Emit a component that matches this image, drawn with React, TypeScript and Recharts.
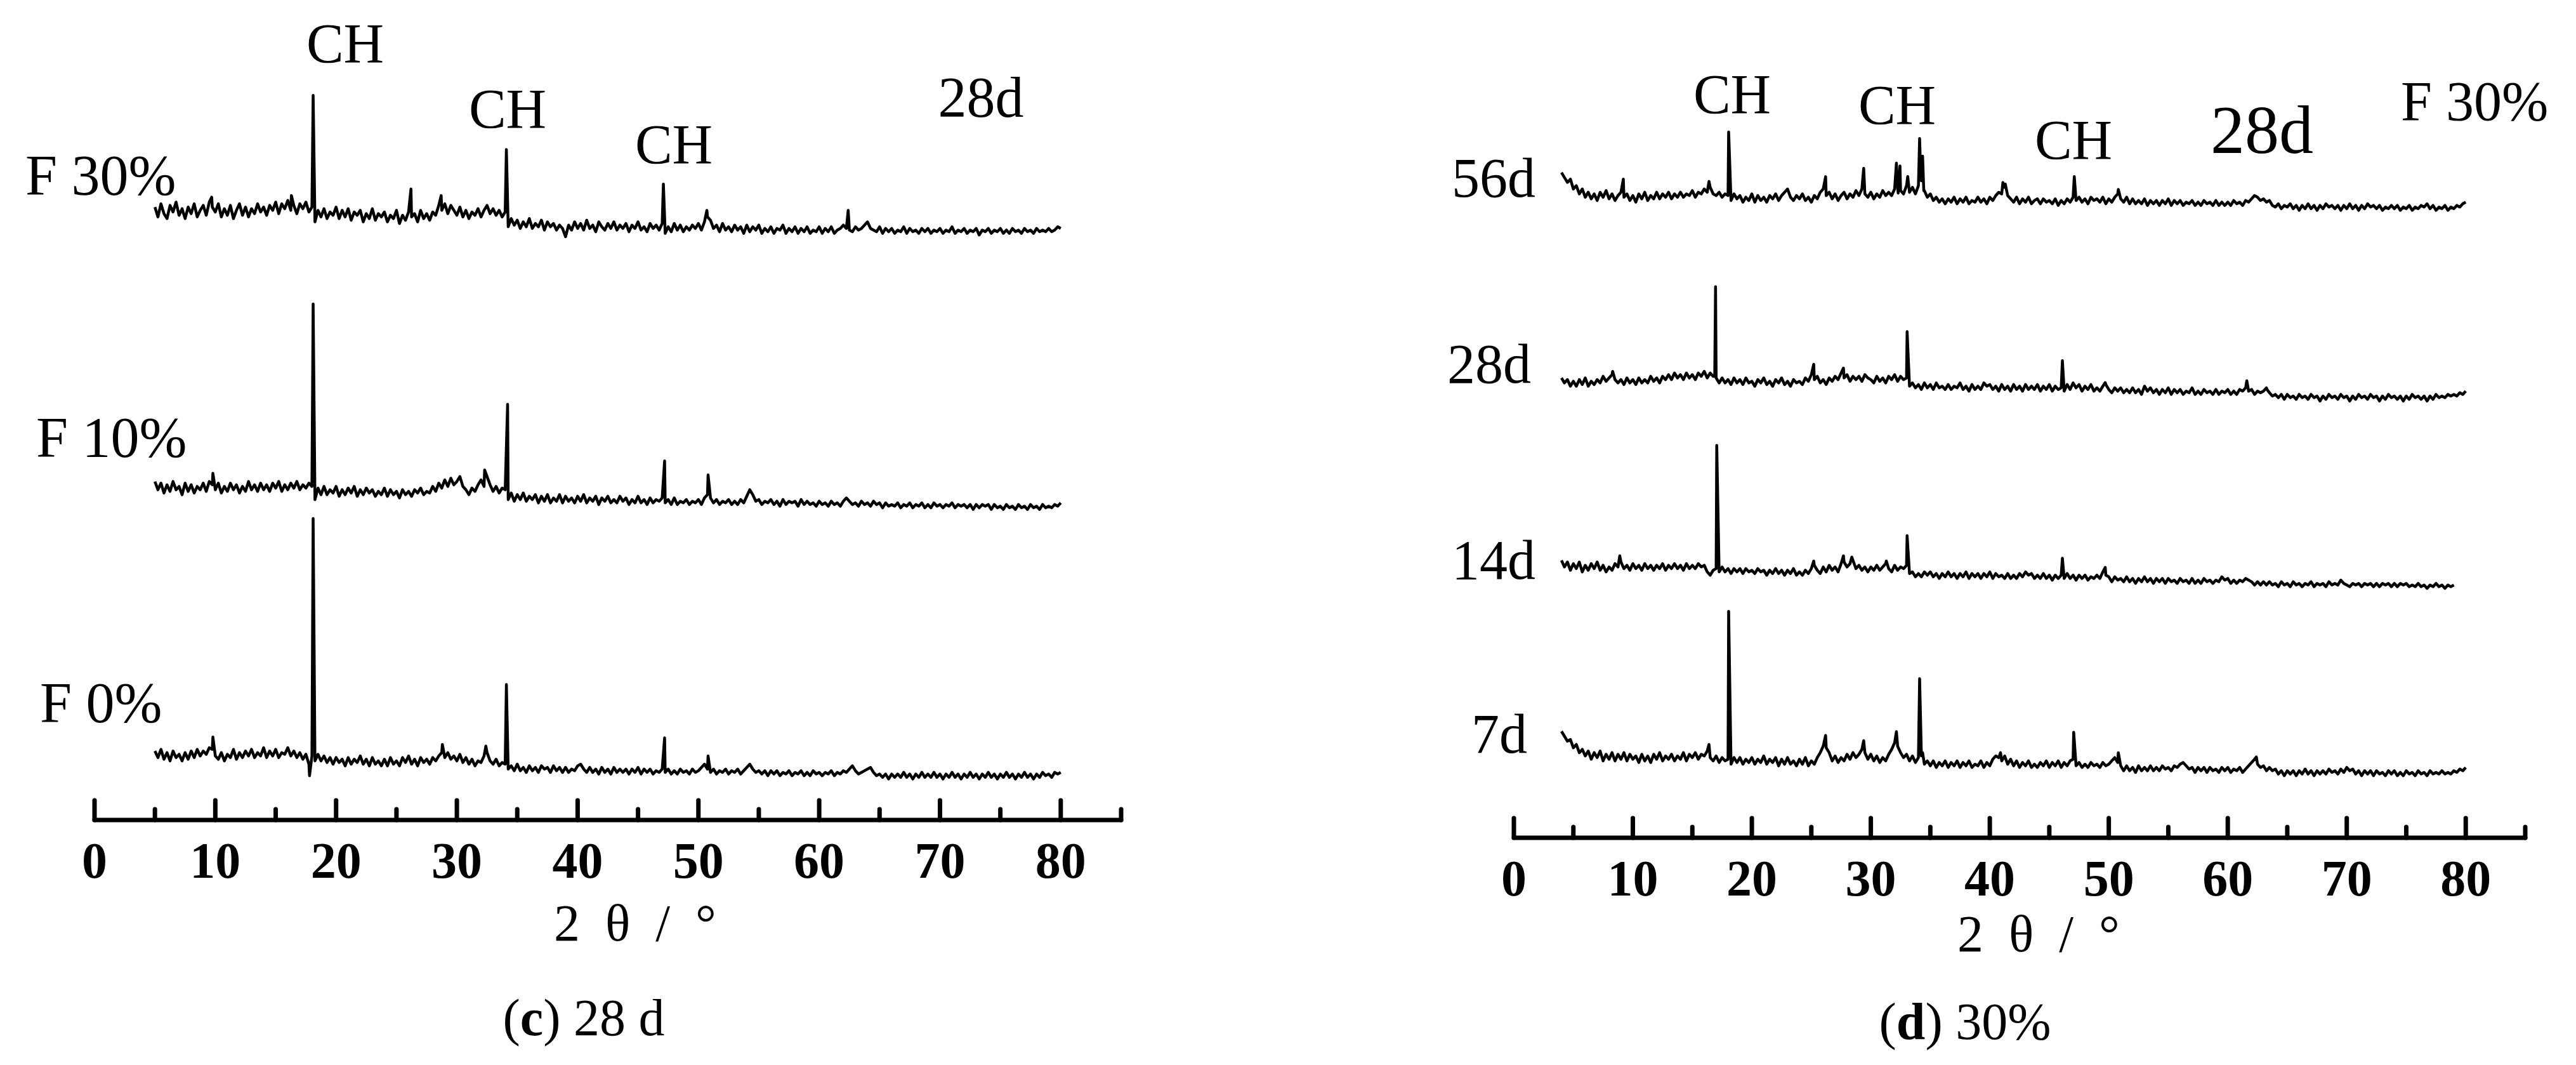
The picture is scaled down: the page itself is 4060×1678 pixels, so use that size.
import React from 'react';
import { LineChart, Line, XAxis, YAxis } from 'recharts';

// ---------------- data (intensity in arbitrary units) ----------------
const twoTheta = [
  4, 4.25, 4.5, 4.75, 5, 5.25, 5.5, 5.75, 6, 6.25, 6.5, 6.75, 7, 7.25, 7.5, 7.75, 8, 8.25, 8.5, 8.75,
  9, 9.25, 9.5, 9.75, 10, 10.25, 10.5, 10.75, 11, 11.25, 11.5, 11.75, 12, 12.25, 12.5, 12.75, 13, 13.25, 13.5, 13.75,
  14, 14.25, 14.5, 14.75, 15, 15.25, 15.5, 15.75, 16, 16.25, 16.5, 16.75, 17, 17.25, 17.5, 17.75, 18, 18.25, 18.5, 18.75,
  19, 19.25, 19.5, 19.75, 20, 20.25, 20.5, 20.75, 21, 21.25, 21.5, 21.75, 22, 22.25, 22.5, 22.75, 23, 23.25, 23.5, 23.75,
  24, 24.25, 24.5, 24.75, 25, 25.25, 25.5, 25.75, 26, 26.25, 26.5, 26.75, 27, 27.25, 27.5, 27.75, 28, 28.25, 28.5, 28.75,
  29, 29.25, 29.5, 29.75, 30, 30.25, 30.5, 30.75, 31, 31.25, 31.5, 31.75, 32, 32.25, 32.5, 32.75, 33, 33.25, 33.5, 33.75,
  34, 34.25, 34.5, 34.75, 35, 35.25, 35.5, 35.75, 36, 36.25, 36.5, 36.75, 37, 37.25, 37.5, 37.75, 38, 38.25, 38.5, 38.75,
  39, 39.25, 39.5, 39.75, 40, 40.25, 40.5, 40.75, 41, 41.25, 41.5, 41.75, 42, 42.25, 42.5, 42.75, 43, 43.25, 43.5, 43.75,
  44, 44.25, 44.5, 44.75, 45, 45.25, 45.5, 45.75, 46, 46.25, 46.5, 46.75, 47, 47.25, 47.5, 47.75, 48, 48.25, 48.5, 48.75,
  49, 49.25, 49.5, 49.75, 50, 50.25, 50.5, 50.75, 51, 51.25, 51.5, 51.75, 52, 52.25, 52.5, 52.75, 53, 53.25, 53.5, 53.75,
  54, 54.25, 54.5, 54.75, 55, 55.25, 55.5, 55.75, 56, 56.25, 56.5, 56.75, 57, 57.25, 57.5, 57.75, 58, 58.25, 58.5, 58.75,
  59, 59.25, 59.5, 59.75, 60, 60.25, 60.5, 60.75, 61, 61.25, 61.5, 61.75, 62, 62.25, 62.5, 62.75, 63, 63.25, 63.5, 63.75,
  64, 64.25, 64.5, 64.75, 65, 65.25, 65.5, 65.75, 66, 66.25, 66.5, 66.75, 67, 67.25, 67.5, 67.75, 68, 68.25, 68.5, 68.75,
  69, 69.25, 69.5, 69.75, 70, 70.25, 70.5, 70.75, 71, 71.25, 71.5, 71.75, 72, 72.25, 72.5, 72.75, 73, 73.25, 73.5, 73.75,
  74, 74.25, 74.5, 74.75, 75, 75.25, 75.5, 75.75, 76, 76.25, 76.5, 76.75, 77, 77.25, 77.5, 77.75, 78, 78.25, 78.5, 78.75,
  79, 79.25, 79.5, 79.75, 80,
];

const xTicks = [0, 5, 10, 15, 20, 25, 30, 35, 40, 45, 50, 55, 60, 65, 70, 75, 80, 85];

// ---- (c) 28 d : F 30%, F 10%, F 0% (scan starts at 5°) ----
const f30 = [
  null, null, null, null, 26, 20, 28, 22, 19, 27, 23, 29, 21, 25, 19, 26, 22, 28, 20, 24,
  27, 21, 29, 26, 23, 28, 20, 25, 21, 27, 19, 24, 28, 21, 26, 20, 25, 22, 28, 23,
  26, 21, 27, 24, 29, 22, 28, 25, 30, 24, 27, 22, 28, 25, 29, 23, 26, 17, 24, 20,
  25, 19, 23, 21, 26, 19, 24, 20, 25, 18, 23, 21, 24, 17, 22, 19, 25, 18, 22, 20,
  23, 17, 21, 19, 24, 16, 21, 18, 23, 20, 22, 17, 24, 19, 22, 18, 23, 21, 27, 24,
  28, 22, 27, 24, 21, 26, 20, 24, 19, 23, 21, 25, 20, 24, 27, 22, 25, 21, 24, 20,
  23, 14, 19, 15, 18, 13, 17, 14, 19, 13, 16, 14, 18, 12, 17, 14, 16, 12, 15, 13,
  8, 15, 12, 17, 13, 16, 12, 18, 13, 15, 11, 17, 14, 12, 16, 13, 17, 12, 15, 13,
  16, 11, 15, 13, 17, 12, 14, 11, 16, 13, 15, 12, 16, 10, 14, 11, 16, 12, 15, 11,
  14, 12, 15, 13, 16, 12, 17, 20, 18, 13, 15, 11, 16, 12, 14, 11, 15, 12, 14, 10,
  15, 11, 14, 12, 15, 10, 13, 11, 14, 10, 13, 12, 15, 10, 13, 11, 14, 10, 13, 11,
  14, 10, 12, 11, 14, 10, 13, 11, 14, 10, 12, 13, 15, 13, 12, 11, 14, 12, 13, 15,
  17, 13, 12, 11, 14, 10, 13, 11, 13, 10, 12, 11, 14, 10, 13, 11, 12, 10, 13, 11,
  13, 10, 12, 11, 13, 10, 12, 11, 14, 10, 12, 11, 13, 10, 12, 11, 13, 9, 12, 11,
  13, 10, 12, 11, 13, 10, 12, 10, 13, 11, 12, 10, 13, 11, 12, 10, 13, 11, 12, 11,
  13, 11, 12, 14, 13,
];
const f30Peaks: [number, number][] = [
  [9.7, 32], [16.3, 33], [18.1, 94], [26.2, 37], [28.7, 33],
  [34.1, 61], [47.1, 40], [50.7, 24], [62.4, 24],
];

const f10 = [
  null, null, null, null, 27, 22, 26, 20, 25, 21, 27, 22, 24, 19, 26, 21, 25, 20, 24, 22,
  26, 21, 27, 25, 22, 26, 20, 24, 21, 26, 22, 25, 20, 24, 21, 27, 22, 25, 21, 26,
  22, 25, 21, 26, 23, 27, 21, 25, 22, 26, 23, 27, 22, 25, 23, 26, 24, 16, 23, 19,
  24, 19, 22, 20, 24, 18, 22, 19, 23, 20, 24, 18, 22, 19, 23, 20, 22, 18, 21, 19,
  23, 18, 22, 19, 21, 17, 22, 19, 21, 18, 22, 20, 23, 19, 21, 20, 24, 21, 26, 23,
  28, 24, 29, 25, 27, 30, 24, 22, 19, 23, 21, 25, 28, 24, 30, 25, 21, 24, 20, 23,
  22, 16, 20, 15, 19, 16, 20, 15, 18, 16, 19, 14, 18, 15, 19, 14, 17, 15, 19, 14,
  18, 15, 17, 14, 18, 15, 19, 14, 17, 15, 18, 13, 17, 15, 18, 14, 16, 14, 18, 15,
  17, 13, 16, 14, 18, 14, 16, 13, 17, 14, 16, 15, 17, 14, 16, 13, 17, 13, 15, 14,
  16, 13, 15, 14, 16, 13, 17, 19, 17, 14, 16, 13, 15, 14, 16, 13, 15, 13, 16, 14,
  18, 22, 19, 15, 16, 13, 15, 14, 16, 13, 15, 12, 16, 13, 15, 14, 15, 12, 16, 13,
  15, 13, 14, 12, 15, 13, 14, 12, 15, 13, 14, 12, 15, 17, 15, 13, 14, 12, 15, 13,
  14, 12, 15, 13, 14, 11, 14, 12, 13, 12, 14, 11, 13, 12, 14, 11, 13, 12, 14, 11,
  13, 11, 14, 12, 13, 11, 13, 12, 14, 11, 13, 12, 13, 11, 13, 10, 13, 11, 13, 12,
  13, 10, 13, 11, 12, 10, 13, 11, 12, 10, 13, 11, 12, 10, 13, 11, 12, 10, 13, 11,
  12, 11, 13, 12, 14,
];
const f10Peaks: [number, number][] = [
  [9.8, 32], [18.1, 135], [32.3, 34], [34.2, 74], [47.2, 39.5], [50.8, 31],
];

const f0 = [
  null, null, null, null, 23, 19, 24, 18, 22, 17, 23, 19, 21, 17, 22, 18, 23, 19, 24, 20,
  23, 21, 25, 24, 20, 18, 22, 17, 21, 19, 24, 18, 22, 19, 23, 20, 24, 19, 22, 20,
  25, 19, 23, 20, 24, 19, 22, 21, 25, 20, 23, 19, 22, 18, 21, 15, 20, 17, 21, 17,
  20, 16, 19, 15, 19, 16, 18, 14, 19, 15, 18, 16, 20, 15, 18, 14, 19, 15, 17, 14,
  18, 14, 19, 15, 17, 14, 19, 16, 20, 15, 18, 14, 19, 16, 18, 15, 19, 17, 20, 22,
  19, 22, 18, 20, 17, 21, 16, 19, 15, 18, 14, 17, 16, 20, 22, 17, 15, 18, 14, 16,
  15, 12, 14, 11, 15, 11, 13, 10, 14, 11, 13, 10, 14, 12, 13, 10, 14, 11, 13, 10,
  13, 10, 12, 11, 14, 15, 12, 10, 13, 10, 12, 9, 13, 10, 12, 9, 13, 10, 12, 10,
  12, 9, 12, 10, 13, 9, 12, 10, 12, 9, 11, 10, 12, 10, 12, 9, 11, 9, 12, 10,
  11, 9, 12, 10, 11, 13, 15, 12, 10, 12, 9, 11, 10, 12, 9, 11, 10, 12, 9, 11,
  13, 15, 12, 10, 11, 9, 11, 8, 11, 9, 11, 8, 10, 9, 11, 8, 10, 9, 11, 8,
  10, 8, 11, 9, 10, 8, 10, 9, 11, 8, 10, 9, 11, 10, 12, 14, 11, 9, 10, 11,
  12, 13, 10, 8, 9, 7, 9, 6, 9, 7, 9, 7, 10, 7, 9, 6, 9, 7, 10, 7,
  9, 7, 10, 7, 9, 6, 9, 7, 10, 7, 9, 6, 9, 7, 10, 7, 9, 6, 9, 7,
  10, 7, 9, 6, 9, 7, 10, 7, 9, 6, 9, 7, 10, 7, 9, 6, 9, 7, 10, 8,
  9, 7, 10, 9, 10,
];
const f0Peaks: [number, number][] = [
  [9.8, 31.5], [17.8, 8], [18.1, 164.5], [28.8, 27], [32.4, 26],
  [34.1, 63.5], [47.2, 31], [50.8, 20],
];

// ---- (d) 30% : 56d, 28d, 14d, 7d (scan starts at 4°) ----
const d56 = [
  25, 22, 19, 21, 15, 17, 12, 15, 10, 13, 9, 12, 8, 13, 10, 14, 9, 12, 8, 11,
  13, 10, 12, 8, 11, 7, 12, 9, 13, 8, 11, 9, 13, 9, 12, 10, 13, 9, 12, 10,
  13, 10, 12, 11, 14, 10, 13, 12, 15, 13, 16, 12, 11, 13, 10, 12, 11, 8, 12, 9,
  11, 7, 10, 8, 12, 7, 11, 8, 10, 7, 11, 9, 12, 8, 11, 13, 15, 10, 8, 11,
  9, 12, 8, 10, 7, 11, 9, 13, 15, 11, 13, 9, 12, 8, 11, 13, 9, 12, 10, 14,
  11, 15, 12, 10, 13, 9, 12, 10, 14, 11, 13, 11, 15, 16, 14, 12, 17, 13, 16, 12,
  17, 20, 14, 10, 12, 8, 10, 7, 9, 6, 9, 7, 10, 6, 9, 7, 10, 6, 8, 7,
  10, 7, 9, 6, 10, 8, 11, 13, 12, 16, 11, 9, 7, 10, 6, 9, 7, 10, 6, 8,
  9, 6, 9, 7, 8, 6, 9, 5, 8, 6, 9, 7, 10, 8, 10, 7, 9, 6, 10, 8,
  9, 7, 10, 6, 9, 7, 10, 12, 9, 7, 10, 6, 9, 6, 8, 6, 9, 5, 8, 6,
  8, 5, 8, 6, 9, 5, 8, 6, 8, 5, 7, 6, 8, 5, 7, 5, 8, 6, 7, 5,
  8, 5, 7, 5, 7, 5, 8, 6, 7, 5, 8, 7, 9, 11, 10, 8, 9, 7, 8, 5,
  4, 6, 3, 5, 4, 6, 3, 5, 2, 5, 3, 6, 3, 5, 2, 5, 3, 6, 4, 5,
  3, 5, 2, 5, 3, 6, 3, 5, 2, 5, 3, 6, 4, 5, 3, 5, 2, 4, 3, 5,
  3, 5, 2, 4, 3, 5, 2, 4, 3, 5, 4, 6, 3, 5, 2, 4, 3, 5, 2, 4,
  3, 5, 4, 6, 7,
];
const d56Peaks: [number, number][] = [
  [9.2, 21], [16.4, 19.6], [18.05, 49.7], [26.2, 22.5], [29.4, 27.6],
  [32.15, 30.7], [32.3, 12.5], [32.45, 29], [33.1, 22.5], [34.1, 45.7], [34.2, 22],
  [34.35, 35], [34.45, 14], [41.1, 19], [41.3, 18], [47.1, 22.5], [50.8, 14.7],
];

const d28 = [
  15, 12, 14, 10, 13, 10, 14, 11, 15, 10, 13, 11, 14, 12, 16, 13, 15, 17, 14, 12,
  14, 11, 15, 12, 14, 11, 15, 12, 14, 12, 16, 13, 15, 12, 16, 14, 17, 14, 18, 15,
  17, 14, 18, 15, 17, 14, 18, 16, 19, 15, 18, 16, 15, 12, 15, 12, 14, 11, 15, 12,
  14, 11, 15, 12, 13, 10, 14, 12, 15, 11, 13, 10, 14, 12, 15, 11, 13, 10, 14, 12,
  13, 11, 15, 13, 17, 14, 16, 12, 14, 11, 15, 13, 16, 14, 18, 15, 17, 13, 16, 14,
  16, 13, 17, 15, 14, 12, 16, 13, 15, 12, 16, 14, 17, 13, 16, 14, 15, 10, 12, 9,
  11, 8, 12, 9, 11, 8, 12, 9, 10, 8, 11, 8, 10, 9, 12, 8, 10, 7, 11, 8,
  10, 8, 12, 10, 11, 8, 10, 7, 11, 8, 10, 7, 11, 8, 10, 7, 11, 8, 10, 8,
  11, 7, 10, 8, 11, 7, 10, 8, 9, 7, 11, 8, 12, 9, 11, 7, 10, 8, 11, 7,
  9, 7, 10, 11, 8, 6, 9, 7, 9, 6, 8, 6, 9, 6, 8, 5, 10, 7, 9, 6,
  8, 5, 8, 6, 9, 5, 8, 6, 8, 5, 7, 6, 9, 5, 7, 5, 8, 6, 7, 5,
  8, 5, 7, 6, 8, 5, 7, 5, 8, 7, 9, 7, 8, 5, 7, 6, 7, 9, 6, 4,
  5, 3, 5, 2, 5, 3, 4, 2, 5, 3, 4, 2, 5, 3, 4, 1, 4, 2, 5, 3,
  4, 2, 5, 3, 4, 1, 4, 2, 5, 3, 4, 2, 5, 3, 4, 1, 4, 2, 5, 3,
  4, 2, 4, 1, 4, 2, 5, 3, 4, 2, 4, 1, 4, 2, 5, 3, 4, 3, 5, 4,
  5, 4, 6, 5, 7,
];
const d28Peaks: [number, number][] = [
  [8.3, 19], [16.88, 16], [16.95, 70.5], [25.2, 23.3], [27.7, 21], [33.05, 43.2],
  [46.1, 25.5], [49.7, 12.2], [61.6, 13.3], [63.3, 8],
];

const d14 = [
  19, 15, 18, 13, 17, 14, 18, 12, 16, 13, 17, 14, 18, 13, 16, 12, 15, 13, 17, 15,
  18, 14, 16, 13, 17, 14, 16, 13, 17, 14, 16, 13, 16, 14, 17, 13, 16, 14, 17, 14,
  16, 13, 17, 14, 16, 14, 17, 15, 16, 12, 10, 13, 14, 12, 15, 12, 14, 11, 14, 12,
  14, 11, 14, 12, 13, 11, 14, 12, 13, 10, 13, 11, 14, 11, 13, 10, 13, 11, 14, 10,
  12, 10, 13, 11, 14, 16, 13, 11, 15, 12, 16, 13, 15, 12, 17, 18, 15, 17, 19, 14,
  16, 13, 15, 12, 15, 13, 16, 13, 15, 17, 14, 12, 16, 13, 15, 14, 16, 11, 12, 9,
  11, 9, 12, 10, 12, 9, 11, 8, 11, 9, 12, 9, 11, 8, 11, 9, 12, 8, 11, 9,
  11, 8, 11, 9, 12, 8, 11, 9, 10, 8, 11, 8, 10, 8, 11, 9, 12, 10, 11, 8,
  10, 8, 11, 8, 10, 7, 10, 8, 10, 8, 11, 8, 10, 7, 10, 8, 10, 7, 9, 8,
  10, 8, 12, 10, 9, 6, 9, 7, 8, 6, 9, 6, 8, 5, 8, 6, 9, 6, 8, 5,
  8, 6, 8, 5, 8, 6, 7, 5, 8, 6, 7, 5, 8, 5, 7, 5, 8, 6, 7, 5,
  7, 6, 9, 7, 8, 5, 7, 5, 7, 6, 8, 7, 6, 4, 6, 4, 6, 4, 6, 4,
  5, 3, 6, 4, 5, 3, 6, 4, 5, 3, 5, 4, 6, 3, 5, 4, 5, 3, 6, 4,
  5, 4, 7, 5, 4, 3, 5, 4, 5, 3, 5, 4, 5, 3, 5, 3, 5, 4, 5, 3,
  5, 3, 5, 4, 5, 3, 4, 3, 5, 3, 4, 2, 4, 3, 5, 3, 4, 2, 4, 3,
  4, null, null, null, null,
];
const d14Peaks: [number, number][] = [
  [8.9, 21.8], [17.05, 89], [25.2, 18.6], [27.7, 21.8], [28.4, 21], [31.3, 18.6],
  [33.05, 34], [46.1, 20.3], [49.7, 14.7],
];

const d7 = [
  33, 30, 27, 28, 23, 25, 20, 22, 18, 21, 16, 20, 17, 21, 15, 19, 16, 20, 15, 19,
  16, 20, 15, 19, 16, 18, 14, 19, 15, 18, 14, 19, 16, 20, 15, 18, 16, 19, 15, 18,
  16, 20, 15, 19, 17, 20, 16, 19, 18, 21, 17, 15, 18, 14, 17, 15, 16, 13, 17, 14,
  17, 13, 16, 14, 17, 13, 16, 14, 18, 13, 16, 14, 17, 12, 16, 13, 17, 13, 15, 12,
  16, 13, 17, 12, 15, 13, 17, 20, 24, 23, 20, 15, 18, 14, 17, 15, 19, 16, 20, 17,
  19, 22, 20, 16, 19, 15, 18, 14, 17, 15, 19, 22, 26, 24, 20, 17, 19, 15, 18, 14,
  17, 18, 13, 15, 12, 15, 11, 14, 12, 15, 11, 14, 12, 15, 11, 14, 12, 15, 11, 13,
  12, 15, 11, 14, 12, 16, 18, 17, 15, 18, 13, 16, 12, 15, 11, 14, 12, 15, 11, 13,
  11, 14, 12, 15, 11, 14, 12, 15, 11, 14, 12, 15, 16, 12, 14, 11, 13, 11, 14, 12,
  13, 11, 14, 12, 13, 15, 17, 14, 12, 9, 12, 9, 11, 8, 12, 9, 11, 9, 12, 9,
  11, 9, 12, 10, 11, 9, 12, 11, 13, 14, 12, 10, 11, 8, 11, 9, 11, 8, 11, 9,
  10, 8, 11, 9, 11, 8, 10, 9, 11, 8, 10, 12, 14, 16, 13, 11, 12, 9, 11, 9,
  10, 7, 9, 6, 9, 7, 9, 6, 9, 7, 10, 7, 9, 6, 9, 7, 9, 7, 10, 8,
  9, 7, 10, 8, 11, 9, 10, 7, 9, 6, 9, 7, 9, 6, 9, 7, 8, 6, 9, 7,
  9, 6, 8, 6, 9, 7, 8, 6, 9, 7, 8, 6, 9, 7, 8, 7, 9, 7, 8, 7,
  9, 8, 10, 9, 11,
];
const d7Peaks: [number, number][] = [
  [16.4, 25], [18.05, 106], [26.2, 30.5], [29.4, 27.3], [32.15, 32.8], [34.1, 65],
  [34.35, 20], [40.9, 20], [47.05, 32.4], [50.8, 20], [62.4, 17.4],
];

// ---------------- helpers ----------------
const SERIF = "'Liberation Serif', 'Times New Roman', Times, serif";
const PX = 4060 / 1568; // screen px per intensity unit

function buildSeries(values: (number | null)[], peaks: [number, number][]) {
  const pts: { x: number; v: number }[] = [];
  twoTheta.forEach((x, i) => {
    const v = values[i];
    if (v !== null && v !== undefined) pts.push({ x, v });
  });
  peaks.forEach(([x, v]) => pts.push({ x, v }));
  pts.sort((a, b) => a.x - b.x);
  return pts;
}

const AxisTick = (props: any) => {
  const { x, y, payload } = props;
  const val = payload.value;
  const major = val % 10 === 0;
  return (
    <g>
      <line x1={x} y1={y} x2={x} y2={y - (major ? 31 : 17)} stroke="#000" strokeWidth={7} strokeLinecap="round" />
      {major && (
        <text x={x} y={y + 91} textAnchor="middle" fontFamily={SERIF} fontWeight="bold" fontSize={80} fill="#000">
          {val}
        </text>
      )}
    </g>
  );
};

type SeriesDef = { id: string; data: { x: number; v: number }[]; base: number };

const Panel = ({ left, width, plotLeft, plotRight, axisY, series }: {
  left: number; width: number; plotLeft: number; plotRight: number; axisY: number; series: SeriesDef[];
}) => {
  const H = 1678;
  const xAxisH = 200;
  const span = axisY / PX;
  return (
    <div style={{ position: 'absolute', left, top: 0, width, height: H }}>
      <LineChart
        width={width}
        height={H}
        margin={{ top: 0, left: plotLeft, right: width - plotRight, bottom: H - axisY - xAxisH }}
      >
        <XAxis
          dataKey="x"
          type="number"
          domain={[0, 85]}
          allowDataOverflow
          ticks={xTicks}
          interval={0}
          tickSize={0}
          tickMargin={0}
          tickLine={false}
          tick={(p: any) => <AxisTick {...p} />}
          axisLine={{ stroke: '#000', strokeWidth: 7, strokeLinecap: 'round' }}
          height={xAxisH}
        />
        {series.map((s) => (
          <YAxis key={s.id} yAxisId={s.id} hide type="number" domain={[s.base - span, s.base]} allowDataOverflow />
        ))}
        {series.map((s) => (
          <Line
            key={s.id}
            yAxisId={s.id}
            data={s.data}
            dataKey="v"
            type="linear"
            dot={false}
            activeDot={false}
            stroke="#000"
            strokeWidth={4.5}
            strokeLinejoin="round"
            isAnimationActive={false}
          />
        ))}
      </LineChart>
    </div>
  );
};

const T = (p: any) => <text fontFamily={SERIF} fill="#000" fontSize={88} {...p} />;

export default function App() {
  const leftSeries: SeriesDef[] = [
    { id: 'f30', data: buildSeries(f30, f30Peaks), base: 152 },
    { id: 'f10', data: buildSeries(f10, f10Peaks), base: 320 },
    { id: 'f0', data: buildSeries(f0, f0Peaks), base: 480 },
  ];
  const rightSeries: SeriesDef[] = [
    { id: 'd56', data: buildSeries(d56, d56Peaks), base: 130 },
    { id: 'd28', data: buildSeries(d28, d28Peaks), base: 245 },
    { id: 'd14', data: buildSeries(d14, d14Peaks), base: 360 },
    { id: 'd7', data: buildSeries(d7, d7Peaks), base: 478 },
  ];
  return (
    <div style={{ position: 'absolute', left: 0, top: 0, width: 4060, height: 1678, background: '#fff', overflow: 'hidden' }}>
      <Panel left={0} width={1900} plotLeft={149} plotRight={1767} axisY={1292} series={leftSeries} />
      <Panel left={2200} width={1860} plotLeft={186} plotRight={1780} axisY={1320} series={rightSeries} />
      <svg width={4060} height={1678} style={{ position: 'absolute', left: 0, top: 0, pointerEvents: 'none' }}>
        {/* panel (c) */}
        <T x={544} y={98} textAnchor="middle">CH</T>
        <T x={800} y={201} textAnchor="middle">CH</T>
        <T x={1062} y={257} textAnchor="middle">CH</T>
        <T x={1546} y={184} textAnchor="middle" fontSize={90}>28d</T>
        <T x={40} y={307} fontSize={90}>F 30%</T>
        <T x={57} y={720} fontSize={90}>F 10%</T>
        <T x={63} y={1138} fontSize={90}>F 0%</T>
        <T x={1021} y={1482} textAnchor="middle" fontSize={82} letterSpacing={40}>2θ/°</T>
        <T x={920} y={1631} textAnchor="middle" fontSize={82}>
          (<tspan fontWeight="bold">c</tspan>) 28 d
        </T>
        {/* panel (d) */}
        <T x={2420} y={310} textAnchor="end">56d</T>
        <T x={2413} y={603} textAnchor="end">28d</T>
        <T x={2420} y={912} textAnchor="end">14d</T>
        <T x={2407} y={1186} textAnchor="end">7d</T>
        <T x={2730} y={178} textAnchor="middle">CH</T>
        <T x={2990} y={195} textAnchor="middle">CH</T>
        <T x={3268} y={250} textAnchor="middle">CH</T>
        <T x={3565} y={241} textAnchor="middle" fontSize={108}>28d</T>
        <T x={3784} y={189} fontSize={88}>F 30%</T>
        <T x={3233} y={1499} textAnchor="middle" fontSize={82} letterSpacing={40}>2θ/°</T>
        <T x={3097} y={1637} textAnchor="middle" fontSize={82}>
          (<tspan fontWeight="bold">d</tspan>) 30%
        </T>
      </svg>
    </div>
  );
}
